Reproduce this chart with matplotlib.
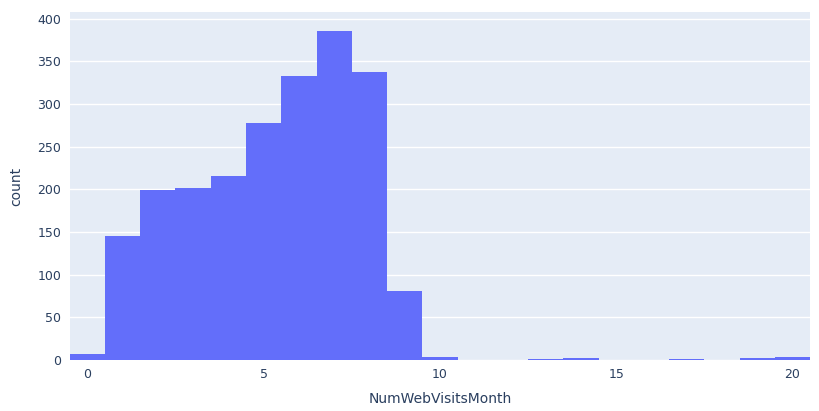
import matplotlib
matplotlib.use("Agg")
import matplotlib.pyplot as plt

visits = list(range(0, 21))
counts = [7, 145, 199, 202, 216, 278, 333, 386, 338, 81, 3, 0, 0, 1, 2, 0, 0, 1, 0, 2, 3]

fig = plt.figure(figsize=(8.2, 4.11), dpi=100)
ax = fig.add_axes([0.085, 0.124, 0.903, 0.847])
ax.set_facecolor("#E5ECF6")
ax.bar(visits, counts, width=1.0, color="#636EFA", zorder=3)
ax.set_xlim(-0.5, 20.5)
ax.set_ylim(0, 408)
ax.set_yticks(range(0, 401, 50))
ax.set_xticks([0, 5, 10, 15, 20])
ax.grid(axis="y", color="white", linewidth=1, zorder=0)
for s in ax.spines.values():
    s.set_visible(False)
ax.tick_params(length=0, labelsize=9, colors="#2a3f5f", pad=6)
ax.set_xlabel("NumWebVisitsMonth", fontsize=10, color="#2a3f5f", labelpad=8)
ax.set_ylabel("count", fontsize=10, color="#2a3f5f", labelpad=10)
fig.savefig("out.png", dpi=100)
